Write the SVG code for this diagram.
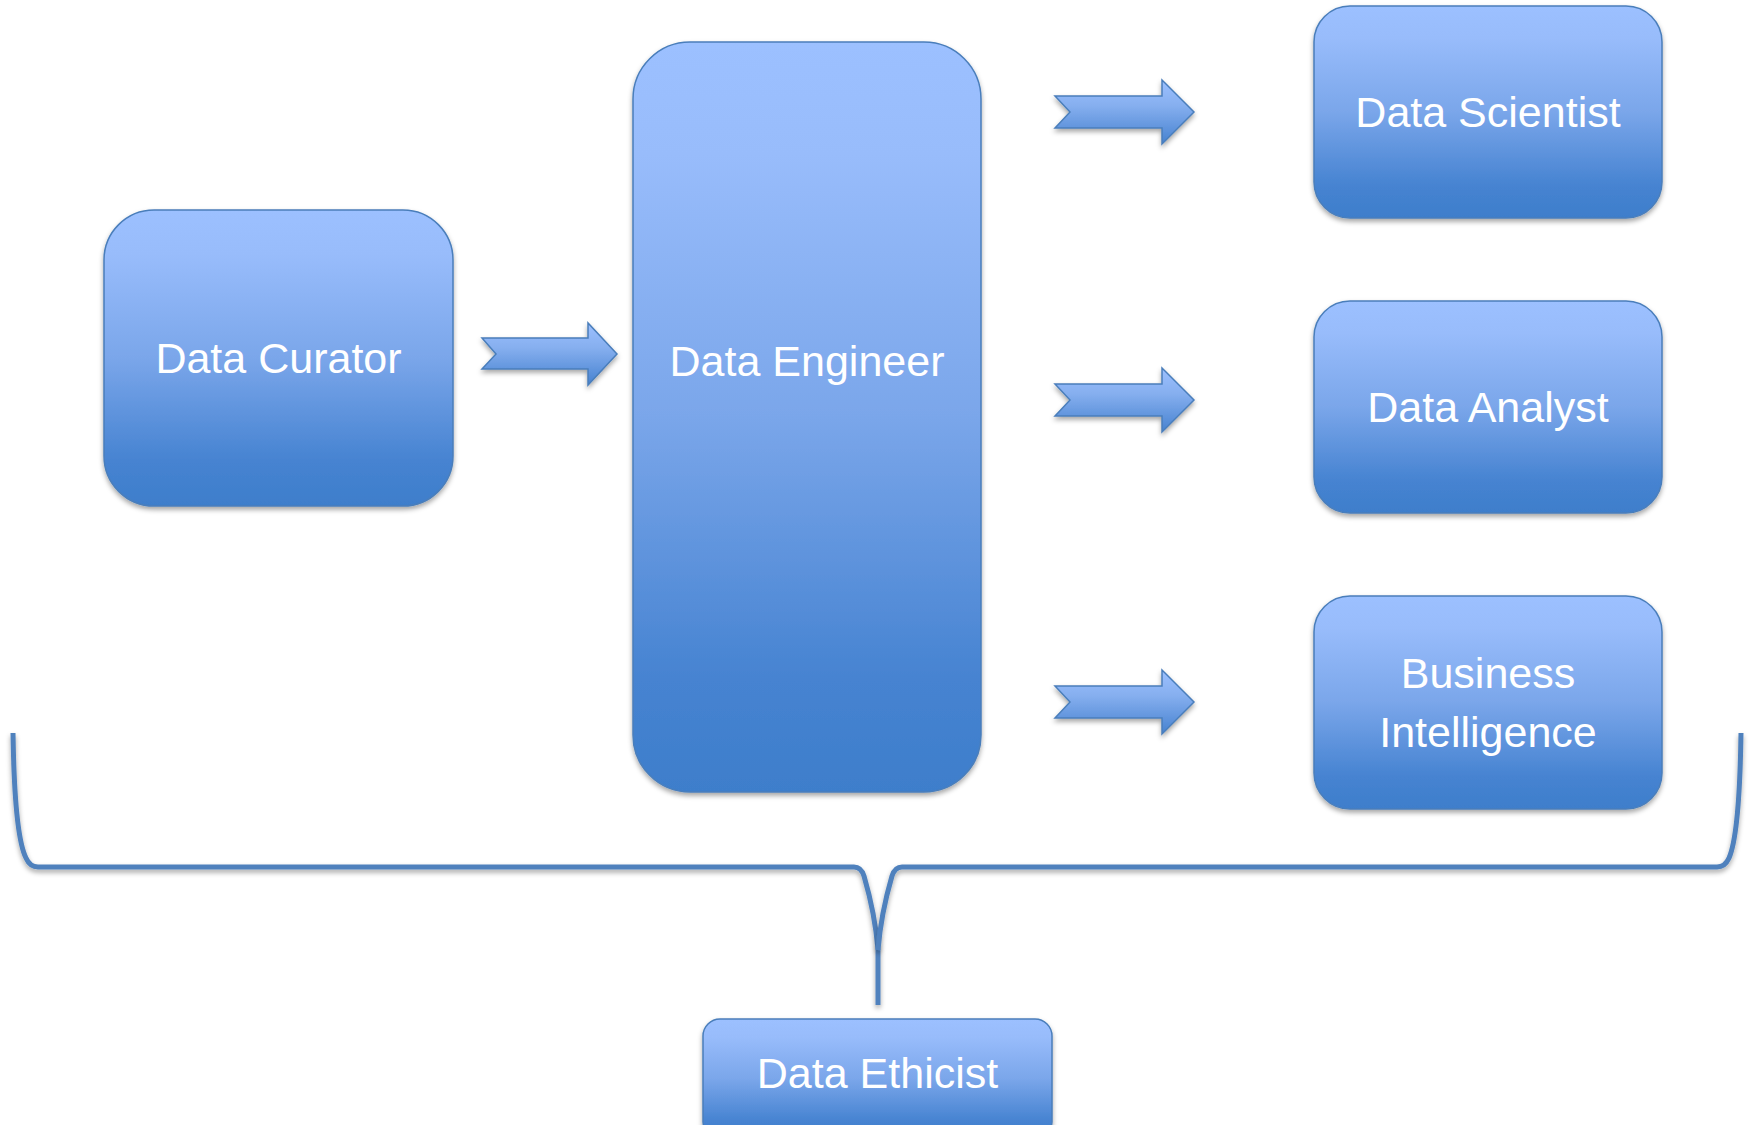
<svg xmlns="http://www.w3.org/2000/svg" width="1750" height="1125" viewBox="0 0 1750 1125">
  <defs>
    <linearGradient id="boxGrad" x1="0" y1="0" x2="0" y2="1">
      <stop offset="0" stop-color="#9cc0ff"/>
      <stop offset="0.15" stop-color="#98bcfb"/>
      <stop offset="0.5" stop-color="#7aa6ea"/>
      <stop offset="0.85" stop-color="#4683d1"/>
      <stop offset="1" stop-color="#3e7ecb"/>
    </linearGradient>
    <linearGradient id="arrowGrad" x1="0" y1="0" x2="0" y2="1">
      <stop offset="0" stop-color="#9cc0ff"/>
      <stop offset="0.4" stop-color="#86afef"/>
      <stop offset="1" stop-color="#4682d0"/>
    </linearGradient>
    <filter id="shadow" x="-10%" y="-10%" width="120%" height="125%">
      <feDropShadow dx="0" dy="3" stdDeviation="2.5" flood-color="#000000" flood-opacity="0.35"/>
    </filter>
  </defs>
  <style>
    .box { fill: url(#boxGrad); stroke: #4a7ebb; stroke-width: 1.5; filter: url(#shadow); }
    .label { fill: #ffffff; font-family: "Liberation Sans", Arial, sans-serif; font-size: 43px; text-anchor: middle; }
    .arrow { fill: url(#arrowGrad); stroke: #4a7ebb; stroke-width: 1.5; stroke-linejoin: miter; filter: url(#shadow); }
    .brace { fill: none; stroke: #4f81bd; stroke-width: 5; stroke-linecap: butt; stroke-linejoin: round; filter: url(#shadow); }
  </style>
  <rect width="1750" height="1125" fill="#ffffff"/>

  <g id="connectors">
    <path class="arrow" d="M482,338 L588,338 L588,323 L617,354 L588,385 L588,369 L482,369 L496,354 Z"/>
    <path class="arrow" d="M1055,96 L1162,96 L1162,80 L1194,112 L1162,144 L1162,128 L1055,128 L1070,112 Z"/>
    <path class="arrow" d="M1055,384 L1162,384 L1162,368 L1194,400 L1162,432 L1162,416 L1055,416 L1070,400 Z"/>
    <path class="arrow" d="M1055,686 L1162,686 L1162,670 L1194,702 L1162,734 L1162,718 L1055,718 L1070,702 Z"/>
    <path class="brace" d="M13,733 C14,800 18,842 26,858 Q30,867 38,867 L854,867 Q861,867 864,876 C871,900 876,925 878,950 L878,1005"/>
    <path class="brace" d="M1741,733 C1740,800 1736,842 1729,858 Q1725,867 1717,867 L902,867 Q895,867 892,876 C885,900 880,925 878,950"/>
  </g>

  <g id="node-data-curator">
    <rect class="box" x="104" y="210" width="349" height="296" rx="50" ry="50"/>
    <text class="label" x="278.5" y="373">Data Curator</text>
  </g>

  <g id="node-data-engineer">
    <rect class="box" x="633" y="42" width="348" height="750" rx="57" ry="57"/>
    <text class="label" x="807" y="376">Data Engineer</text>
  </g>

  <g id="node-data-scientist">
    <rect class="box" x="1314" y="6" width="348" height="212" rx="36" ry="36"/>
    <text class="label" x="1488" y="127">Data Scientist</text>
  </g>

  <g id="node-data-analyst">
    <rect class="box" x="1314" y="301" width="348" height="212" rx="36" ry="36"/>
    <text class="label" x="1488" y="422">Data Analyst</text>
  </g>

  <g id="node-business-intelligence">
    <rect class="box" x="1314" y="596" width="348" height="213" rx="36" ry="36"/>
    <text class="label" x="1488" y="688">Business</text>
    <text class="label" x="1488" y="747">Intelligence</text>
  </g>

  <g id="node-data-ethicist">
    <rect class="box" x="703" y="1019" width="349" height="120" rx="17" ry="17"/>
    <text class="label" x="877.5" y="1088">Data Ethicist</text>
  </g>
</svg>
